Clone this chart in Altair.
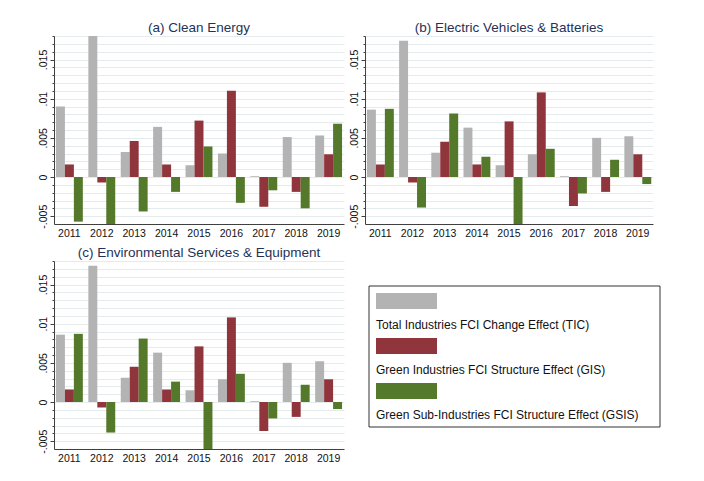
import altair as alt
import pandas as pd

years = [2011, 2012, 2013, 2014, 2015, 2016, 2017, 2018, 2019]
series = ["TIC", "GIS", "GSIS"]
series_labels = [
    "Total Industries FCI Change Effect (TIC)",
    "Green Industries FCI Structure Effect (GIS)",
    "Green Sub-Industries FCI Structure Effect (GSIS)",
]
colors = ["#b3b3b3", "#8f353b", "#55792a"]

titles = [
    "(a) Clean Energy",
    "(b) Electric Vehicles & Batteries",
    "(c) Environmental Services & Equipment",
]

# (a) Clean Energy
a_tic = [0.0090, 0.0180, 0.0032, 0.0064, 0.0015, 0.0030, 0.0001, 0.0051, 0.0053]
a_gis = [0.0016, -0.0007, 0.0046, 0.0016, 0.0072, 0.0110, -0.0038, -0.0019, 0.0029]
a_gsis = [-0.0057, -0.0065, -0.0044, -0.0019, 0.0039, -0.0033, -0.0017, -0.0040, 0.0068]

# (b) Electric Vehicles & Batteries
b_tic = [0.0086, 0.0174, 0.0031, 0.0063, 0.0015, 0.0029, 0.0001, 0.0050, 0.0052]
b_gis = [0.0016, -0.0007, 0.0045, 0.0016, 0.0071, 0.0108, -0.0037, -0.0019, 0.0029]
b_gsis = [0.0087, -0.0039, 0.0081, 0.0026, -0.0065, 0.0036, -0.0021, 0.0022, -0.0009]

# (c) Environmental Services & Equipment
c_tic = [0.0086, 0.0174, 0.0031, 0.0063, 0.0015, 0.0029, 0.0001, 0.0050, 0.0052]
c_gis = [0.0016, -0.0007, 0.0045, 0.0016, 0.0071, 0.0108, -0.0037, -0.0019, 0.0029]
c_gsis = [0.0087, -0.0039, 0.0081, 0.0026, -0.0065, 0.0036, -0.0021, 0.0022, -0.0009]

y_ticks = [-0.005, -0.004, -0.003, -0.002, -0.001, 0.0, 0.001, 0.002, 0.003, 0.004,
           0.005, 0.006, 0.007, 0.008, 0.009, 0.01, 0.011, 0.012, 0.013, 0.014,
           0.015, 0.016, 0.017, 0.018]
y_domain = [-0.006, 0.018]

FONT = "Liberation Sans"
TITLE_COLOR = "#1f3257"
AXIS_COLOR = "#404040"
MAJOR = "abs(round(datum.value*1000)) % 5 == 0"


def long_df(tic, gis, gsis):
    rows = []
    for s, vals in zip(series, [tic, gis, gsis]):
        for yr, v in zip(years, vals):
            rows.append({"year": str(yr), "series": s, "value": v})
    return pd.DataFrame(rows)


def panel(df, title, w, h):
    return alt.Chart(df, title=alt.TitleParams(
        title, fontSize=13.5, font=FONT, fontWeight="normal", color=TITLE_COLOR,
        anchor="middle", offset=1)).mark_bar(clip=True).encode(
        x=alt.X("year:O", title=None,
                scale=alt.Scale(paddingInner=0.17, paddingOuter=0.06),
                axis=alt.Axis(labelAngle=0, ticks=False, labelPadding=4,
                              labelFontSize=10.5, labelFont=FONT, labelColor="#111",
                              domainColor=AXIS_COLOR, grid=False)),
        xOffset=alt.XOffset("series:N", sort=series),
        y=alt.Y("value:Q", title=None,
                scale=alt.Scale(domain=y_domain, nice=False, zero=False),
                axis=alt.Axis(values=y_ticks, grid=True, gridColor="#e4ebed",
                              domainColor=AXIS_COLOR, tickColor=AXIS_COLOR,
                              tickSize={"condition": {"test": MAJOR, "value": 4}, "value": 2},
                              labelExpr=MAJOR + " ? replace(toString(datum.value), '0.', '.') : ''",
                              labelAngle=270, labelAlign="center", labelBaseline="bottom",
                              labelPadding=2, labelFontSize=10.5, labelFont=FONT,
                              labelColor="#111")),
        color=alt.Color("series:N", scale=alt.Scale(domain=series, range=colors),
                        legend=None),
    ).properties(width=w, height=h)


pa = panel(long_df(a_tic, a_gis, a_gsis), titles[0], 290, 188)
pb = panel(long_df(b_tic, b_gis, b_gsis), titles[1], 288, 188)
pc = panel(long_df(c_tic, c_gis, c_gsis), titles[2], 290, 188)

# legend panel
leg_df = pd.DataFrame({"label": series_labels, "series": series})
BX = 4
box = alt.Chart(alt.Data(values=[{"k": 1}])).mark_rect(
    fillOpacity=0, stroke="#333333", strokeWidth=1).encode(
    x=alt.value(BX), x2=alt.value(BX + 291), y=alt.value(0), y2=alt.value(141))
ly = alt.Y("label:N", sort=series_labels, axis=None,
           scale=alt.Scale(paddingInner=0, paddingOuter=0.067))
sw = alt.Chart(leg_df).mark_bar(size=16, yOffset=-10.5).encode(
    y=ly, x=alt.value(BX + 7), x2=alt.value(BX + 68),
    color=alt.Color("label:N", scale=alt.Scale(domain=series_labels, range=colors),
                    legend=None))
tx = alt.Chart(leg_df).mark_text(align="left", baseline="middle", dy=13.5,
                                 fontSize=12, font=FONT, color="#111").encode(
    y=ly, x=alt.value(BX + 7), text="label:N")
legend = alt.layer(box, sw, tx).properties(width=BX + 295, height=141)

col1 = alt.vconcat(pa, pc, spacing=7)
col2 = alt.vconcat(pb, legend, spacing=46)
chart = alt.hconcat(col1, col2, spacing=5).properties(
    padding={"left": 30, "top": 13, "right": 5, "bottom": 5},
    background="white",
).configure_view(stroke=None)

chart.save("out.html", embed_options={"renderer": "svg", "actions": False})
